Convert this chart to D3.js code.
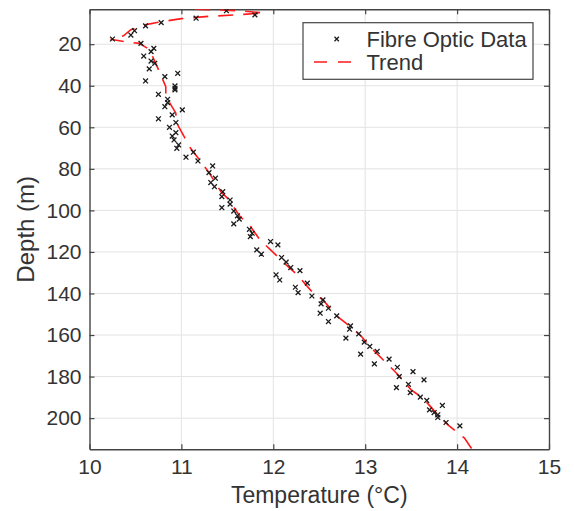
<!DOCTYPE html>
<html>
<head>
<meta charset="utf-8">
<script src="https://cdn.jsdelivr.net/npm/d3@7"></script>
<style>
  body { margin: 0; background: #fff; }
  text { font-family: "Liberation Sans", Arial, sans-serif; fill: #333; }
</style>
</head>
<body>
<script>
const W = 574, H = 511

// fibre optic readings
const temps = [11.49, 11.80, 11.16, 10.78, 10.61, 10.49, 10.45, 10.25, 10.56, 10.70,
  10.67, 10.59, 10.67, 10.71, 10.65, 10.96, 10.82, 10.61, 10.93, 10.93,
  10.93, 10.75, 10.85, 10.85, 10.82, 11.01, 10.90, 10.75, 10.94, 10.87,
  10.94, 10.90, 10.92, 10.97, 10.95, 11.13, 11.05, 11.18, 11.34, 11.30,
  11.37, 11.32, 11.36, 11.45, 11.44, 11.53, 11.53, 11.44, 11.57, 11.61,
  11.63, 11.57, 11.74, 11.77, 11.75, 11.97, 12.05, 11.82, 11.87, 12.09,
  12.14, 12.19, 12.29, 12.03, 12.07, 12.37, 12.24, 12.27, 12.42, 12.54,
  12.52, 12.60, 12.51, 12.69, 12.60, 12.84, 12.83, 12.93, 12.79, 12.99,
  13.05, 13.13, 12.95, 13.26, 13.10, 13.35, 13.52, 13.37, 13.64, 13.47,
  13.34, 13.49, 13.60, 13.67, 13.84, 13.70, 13.75, 13.79, 13.79, 13.88, 14.03]
const depths = [3.9, 5.9, 7.5, 9.6, 11.2, 13.5, 15.6, 17.5, 19.6, 22.0,
  23.6, 25.7, 28.1, 29.2, 31.9, 34.0, 35.6, 37.7, 40.1, 41.2,
  42.0, 44.1, 46.5, 48.1, 50.1, 51.6, 54.0, 55.9, 57.7, 60.0,
  62.6, 64.2, 66.1, 68.5, 70.1, 72.0, 74.4, 76.2, 78.6, 81.8,
  84.5, 86.6, 88.6, 91.0, 93.4, 95.0, 97.0, 98.7, 100.3, 102.6,
  104.2, 106.5, 109.1, 111.0, 112.6, 115.0, 116.6, 119.0, 121.1, 122.7,
  124.9, 127.5, 129.0, 131.0, 133.5, 135.0, 137.0, 139.6, 141.2, 143.1,
  145.0, 147.1, 149.5, 150.8, 153.5, 155.6, 157.2, 159.4, 161.5, 163.4,
  165.5, 167.9, 169.2, 171.6, 173.9, 175.5, 177.6, 180.0, 181.6, 183.7,
  185.3, 187.7, 189.9, 191.5, 193.9, 196.0, 197.3, 198.4, 199.7, 202.1, 203.7]

// trend curve
const trendT = [11.15, 11.4, 11.66, 11.9, 11.62, 11.3, 11.0, 10.75, 10.6, 10.45,
  10.37, 10.23, 10.39, 10.54, 10.65, 10.72, 10.76, 10.83, 10.83, 10.94,
  10.94, 11.03, 11.10, 11.22, 11.30, 11.43, 11.50, 11.64, 11.74, 11.85,
  11.97, 12.14, 12.26, 12.41, 12.54, 12.70, 12.80, 12.96, 13.05, 13.24,
  13.36, 13.50, 13.63, 13.79, 13.90, 14.08, 14.17]
const trendD = [3.2, 3.5, 4.0, 5.0, 5.8, 6.6, 7.7, 9.4, 10.7, 13.0,
  16.0, 17.6, 18.8, 19.6, 22.4, 29.2, 33.2, 40.4, 45.2, 53.2,
  57.3, 64.5, 70.1, 77.0, 81.8, 91.0, 94.1, 103.0, 107.0, 113.9,
  119.0, 126.2, 131.0, 138.6, 143.1, 151.1, 154.6, 160.7, 165.5, 173.9,
  179.2, 186.4, 190.4, 198.4, 203.2, 209.6, 215.5]

const xTicks = [10, 11, 12, 13, 14, 15]
const yTicks = [20, 40, 60, 80, 100, 120, 140, 160, 180, 200]
const seriesNames = ['Fibre Optic Data', 'Trend']

const pL = 89.5, pR = 549, pT = 9.3, pB = 449.3
const x = d3.scaleLinear().domain([10, 15]).range([pL, pR])
const y = d3.scaleLinear().domain([3.2, 215]).range([pT, pB])

const axisCol = '#444', gridCol = '#e3e3e3'

const svg = d3.select('body').append('svg')
  .attr('width', W)
  .attr('height', H)

svg.append('defs').append('clipPath').attr('id', 'plot')
  .append('rect')
  .attr('x', pL).attr('y', pT)
  .attr('width', pR - pL).attr('height', pB - pT)

// grid
const grid = svg.append('g').attr('stroke', gridCol).attr('stroke-width', 1)
grid.selectAll('.gx').data(xTicks.slice(1, -1)).enter()
  .append('line')
  .attr('x1', d => x(d)).attr('x2', d => x(d))
  .attr('y1', pT).attr('y2', pB)
grid.selectAll('.gy').data(yTicks).enter()
  .append('line')
  .attr('x1', pL).attr('x2', pR)
  .attr('y1', d => y(d)).attr('y2', d => y(d))

// axes (boxed, ticks inward on all sides)
const tk = 5
svg.append('g')
  .attr('transform', `translate(0,${pB})`)
  .call(d3.axisBottom(x).tickValues(xTicks).tickFormat(d3.format('d'))
    .tickSizeInner(-tk).tickSizeOuter(0).tickPadding(10))
svg.append('g')
  .attr('transform', `translate(0,${pT})`)
  .call(d3.axisTop(x).tickValues(xTicks).tickSizeInner(-tk).tickSizeOuter(0).tickFormat(''))
svg.append('g')
  .attr('transform', `translate(${pL},0)`)
  .call(d3.axisLeft(y).tickValues(yTicks).tickFormat(d3.format('d'))
    .tickSizeInner(-tk).tickSizeOuter(0).tickPadding(8))
svg.append('g')
  .attr('transform', `translate(${pR},0)`)
  .call(d3.axisRight(y).tickValues(yTicks).tickSizeInner(-tk).tickSizeOuter(0).tickFormat(''))

svg.selectAll('.domain').attr('stroke', axisCol).attr('stroke-width', 1.4)
svg.selectAll('.tick line').attr('stroke', axisCol).attr('stroke-width', 1.2)
svg.selectAll('.tick text')
  .attr('fill', '#333')
  .style('font-size', '21px')
  .style('font-family', '"Liberation Sans", Arial, sans-serif')

// trend line
const line = d3.line().x(d => x(d[0])).y(d => y(d[1]))
svg.append('path')
  .datum(d3.zip(trendT, trendD))
  .attr('clip-path', 'url(#plot)')
  .attr('d', line)
  .attr('fill', 'none')
  .attr('stroke', '#ff1a1a')
  .attr('stroke-width', 1.6)
  .attr('stroke-dasharray', '15,10')

// data markers
const xMark = (g, s) => g.append('path')
  .attr('d', `M${-s},${-s}L${s},${s}M${-s},${s}L${s},${-s}`)
  .attr('stroke', '#1a1a1a')
  .attr('stroke-width', 1.3)
  .attr('fill', 'none')

svg.append('g').attr('clip-path', 'url(#plot)')
  .selectAll('g').data(d3.zip(temps, depths)).enter()
  .append('g')
  .attr('transform', d => `translate(${x(d[0])},${y(d[1])})`)
  .each(function () { xMark(d3.select(this), 2.4) })

// axis labels
svg.append('text')
  .attr('x', (pL + pR) / 2).attr('y', 503)
  .attr('text-anchor', 'middle')
  .style('font-size', '23px')
  .text('Temperature (°C)')

svg.append('text')
  .attr('transform', `translate(33.5,${(pT + pB) / 2}) rotate(-90)`)
  .attr('text-anchor', 'middle')
  .style('font-size', '24px')
  .text('Depth (m)')

// legend
const lg = svg.append('g')
lg.append('rect')
  .attr('x', 303).attr('y', 22.7)
  .attr('width', 230).attr('height', 56.6)
  .attr('fill', '#fff')
  .attr('stroke', axisCol)
  .attr('stroke-width', 1.2)

xMark(lg.append('g').attr('transform', 'translate(336.7,39)'), 2.2)
lg.append('line')
  .attr('x1', 314).attr('x2', 356)
  .attr('y1', 62).attr('y2', 62)
  .attr('stroke', '#ff1a1a')
  .attr('stroke-width', 1.6)
  .attr('stroke-dasharray', '13,11')

lg.selectAll('text.lab').data(seriesNames).enter()
  .append('text')
  .attr('x', 366.5)
  .attr('y', (d, i) => 39 + i * 23)
  .attr('dy', '0.35em')
  .style('font-size', '22px')
  .text(d => d)
</script>
</body>
</html>
